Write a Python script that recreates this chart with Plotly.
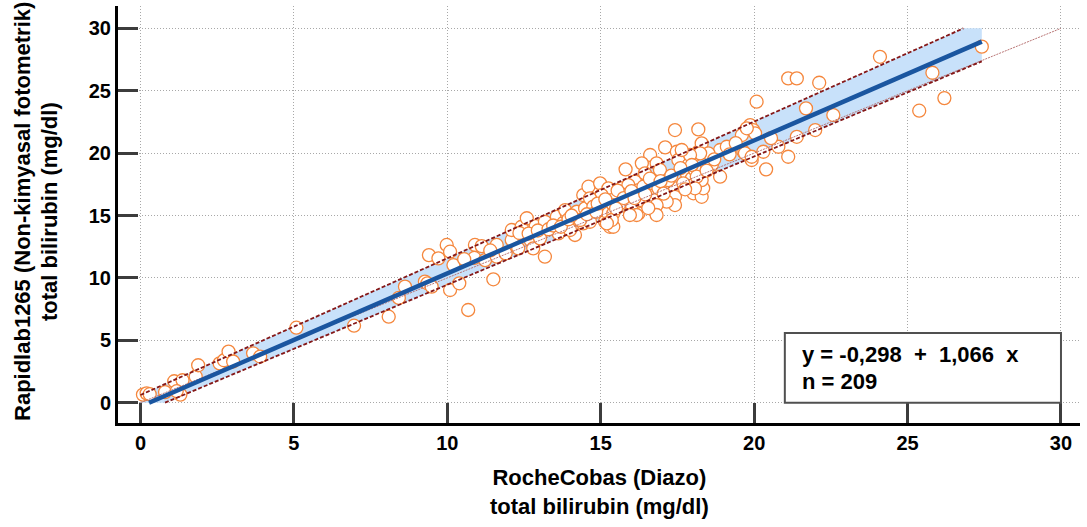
import numpy as np
import plotly.graph_objects as go

# Method comparison: total bilirubin (mg/dl), RocheCobas (Diazo) vs Rapidlab1265
roche = [
    0.08, 0.20, 0.30, 0.80, 1.10, 1.37, 1.30, 1.18, 1.80, 1.88,
    2.58, 2.72, 2.87, 3.02, 3.67, 3.90, 5.08, 6.96, 8.09, 8.42,
    8.62, 9.27, 9.35, 9.49, 10.09, 10.39, 10.68, 11.50, 9.40, 9.71,
    9.98, 10.09, 10.20, 10.90, 11.12, 10.88, 11.23, 11.61, 11.61, 11.90,
    12.10, 12.10, 12.31, 12.42, 12.59, 12.72, 12.80, 12.88, 13.02, 13.18,
    13.18, 13.57, 13.62, 13.78, 13.89, 13.84, 14.16, 14.16, 14.27, 14.43,
    14.65, 14.00, 14.22, 14.49, 14.33, 14.43, 14.60, 14.71, 14.98, 14.98,
    15.08, 15.14, 15.30, 15.41, 15.25, 15.52, 15.68, 15.85, 15.96, 16.06,
    16.17, 16.23, 16.34, 16.71, 16.77, 15.81, 16.12, 15.90, 16.23, 15.95,
    16.39, 16.71, 16.88, 17.15, 17.42, 17.42, 17.42, 17.15, 16.82, 16.82,
    16.28, 16.01, 16.17, 15.95, 15.63, 15.63, 15.25, 15.03, 14.65, 14.76,
    15.36, 15.41, 15.41, 15.36, 15.20, 16.61, 17.10, 17.48, 17.53, 17.86,
    18.18, 18.34, 16.34, 16.44, 16.82, 16.93, 17.20, 17.42, 18.18, 17.80,
    17.97, 18.02, 18.02, 18.29, 18.34, 18.29, 18.07, 18.07, 19.60, 19.87,
    19.97, 20.03, 18.29, 18.89, 19.11, 18.51, 18.24, 17.91, 17.97, 18.62,
    19.65, 19.92, 20.30, 20.79, 21.39, 21.99, 21.11, 20.39, 18.89, 18.13,
    18.07, 17.69, 17.64, 20.08, 21.69, 21.11, 21.39, 22.12, 19.76, 19.70,
    19.92, 22.58, 24.10, 25.38, 25.81, 26.20, 27.42, 12.35, 12.65, 12.95,
    13.30, 13.45, 13.70, 13.95, 14.05, 14.55, 14.85, 14.90, 15.15, 15.50,
    15.55, 15.75, 16.00, 16.10, 16.45, 16.55, 16.60, 16.95, 17.05, 17.30,
    17.60, 17.75, 18.45, 18.70, 19.20, 19.40, 11.40, 10.55, 20.55,
]
rapidlab = [
    0.65, 0.75, 0.68, 0.85, 1.72, 1.80, 0.65, 0.92, 2.10, 3.00,
    3.15, 3.40, 4.10, 3.30, 3.96, 3.70, 6.01, 6.17, 6.89, 8.40,
    9.30, 9.70, 9.57, 9.30, 9.03, 9.57, 7.43, 9.89, 11.83, 11.57,
    12.64, 12.10, 11.03, 12.64, 12.55, 11.60, 11.43, 12.64, 11.70, 11.97,
    13.04, 13.84, 12.37, 14.10, 14.78, 13.00, 12.37, 14.15, 13.17, 11.70,
    14.50, 14.90, 13.57, 14.40, 15.17, 15.44, 15.17, 13.44, 14.64, 14.37,
    14.50, 13.84, 15.30, 15.57, 14.64, 16.64, 17.31, 16.24, 17.58, 16.50,
    15.90, 14.50, 14.10, 14.10, 15.17, 16.38, 17.18, 15.98, 15.17, 15.84,
    17.44, 15.17, 16.38, 16.78, 16.24, 18.70, 17.71, 17.44, 17.04, 16.64,
    17.31, 17.58, 17.18, 17.31, 17.18, 16.50, 15.84, 16.11, 15.84, 15.04,
    16.24, 15.84, 15.04, 15.04, 15.98, 16.78, 17.18, 16.64, 16.38, 15.71,
    16.24, 15.84, 15.17, 14.64, 14.37, 19.85, 20.46, 20.11, 19.45, 19.05,
    20.11, 20.11, 19.18, 18.38, 19.18, 18.65, 17.84, 21.85, 21.90, 18.38,
    17.98, 17.44, 16.78, 16.50, 17.18, 17.84, 18.65, 19.85, 21.45, 22.25,
    21.85, 21.59, 20.78, 20.25, 20.51, 19.98, 19.98, 19.85, 19.05, 19.05,
    20.11, 19.45, 20.11, 20.51, 21.31, 21.85, 19.71, 18.70, 18.11, 18.11,
    17.18, 17.58, 20.25, 24.12, 23.59, 25.99, 25.99, 25.64, 21.99, 19.98,
    19.71, 23.05, 27.72, 23.40, 26.44, 24.41, 28.53, 13.60, 13.55, 13.80,
    13.90, 14.20, 14.10, 14.70, 15.00, 15.10, 15.30, 15.95, 16.30, 15.55,
    17.00, 16.40, 16.95, 16.40, 16.70, 15.60, 17.95, 17.75, 16.75, 18.20,
    18.80, 17.10, 18.60, 19.50, 19.90, 20.80, 12.20, 11.50, 21.20,
]

# Regression fit and the 95% confidence band limits (intercept, slope)
INTERCEPT = -0.298
SLOPE = 1.066
CI_UPPER = (0.62, 1.0955)
CI_LOWER = (-0.82, 1.0275)

TICKS = [0, 5, 10, 15, 20, 25, 30]
LIMIT = 30.0

x = np.array(roche)
y = np.array(rapidlab)
x_min, x_max = x.min(), x.max()


def clipped_segment(a, b, x_lo, x_hi):
    """Endpoints of y = a + b*x over [x_lo, x_hi], kept inside 0..LIMIT in y."""
    xs = max(x_lo, (0 - a) / b)
    xe = min(x_hi, (LIMIT - a) / b)
    return [xs, xe], [a + b * xs, a + b * xe]


def dec(v):
    return f"{v:.3f}".replace(".", ",")


FONT = "Liberation Sans, Arial, sans-serif"
NB = "\u00a0"
BOLD22 = dict(family=FONT, size=22, color="#000000", weight="bold")

fig = go.Figure()

# shaded confidence band between the two limit lines
gx = np.linspace(0, x_max, 600)
up = np.clip(CI_UPPER[0] + CI_UPPER[1] * gx, 0, LIMIT)
lo = np.clip(CI_LOWER[0] + CI_LOWER[1] * gx, 0, LIMIT)
fig.add_trace(go.Scatter(
    x=np.concatenate([gx, gx[::-1]]), y=np.concatenate([up, lo[::-1]]),
    fill="toself", fillcolor="#c8e1fa", line=dict(width=0),
    mode="lines", hoverinfo="skip", showlegend=False,
))

# observations
fig.add_trace(go.Scatter(
    x=x, y=y, mode="markers", showlegend=False,
    marker=dict(symbol="circle", size=13, color="white",
                line=dict(color="#f5873d", width=1.3)),
))

# line of identity
fig.add_trace(go.Scatter(
    x=[0, LIMIT], y=[0, LIMIT], mode="lines", showlegend=False,
    line=dict(color="#b87474", width=1, dash="2px,1px"),
))

# confidence limit lines
for a, b in (CI_UPPER, CI_LOWER):
    sx, sy = clipped_segment(a, b, 0, x_max)
    fig.add_trace(go.Scatter(
        x=sx, y=sy, mode="lines", showlegend=False,
        line=dict(color="#851818", width=1.8, dash="4px,2px"),
    ))

# regression line
rx, ry = clipped_segment(INTERCEPT, SLOPE, x_min, x_max)
fig.add_trace(go.Scatter(
    x=rx, y=ry, mode="lines", showlegend=False,
    line=dict(color="#1a56a0", width=4.5),
))

axis_common = dict(
    tickvals=TICKS, ticks="inside", ticklen=20, tickwidth=3, tickcolor="#3c3c3c",
    showline=True, linecolor="#000000", linewidth=3, mirror=False,
    showgrid=True, gridcolor="#a8a8a8", griddash="1px,2px", gridwidth=1,
    zeroline=False,
    tickfont=dict(family=FONT, size=20, color="#000000", weight="bold"),
)

fig.update_layout(
    width=1087, height=527,
    margin=dict(l=118, r=7, t=6, b=104),
    paper_bgcolor="white", plot_bgcolor="white",
    xaxis=dict(range=[-0.733, 30.62], **axis_common),
    yaxis=dict(range=[-1.627, 31.79], **axis_common),
    showlegend=False,
)

# statistics box
fig.add_shape(type="rect", xref="x", yref="y", x0=21.0, x1=30.0, y0=0, y1=5.58,
              fillcolor="white", line=dict(color="#505050", width=2), layer="above")

eq = f"y = {dec(INTERCEPT)}{NB}{NB}+{NB}{NB}{dec(SLOPE)}{NB}{NB}x"
fig.add_annotation(x=21.5, y=3.9, xref="x", yref="y", text=eq, showarrow=False,
                   xanchor="left", yanchor="middle", font=BOLD22)
fig.add_annotation(x=21.5, y=1.66, xref="x", yref="y", text=f"n = {len(x)}",
                   showarrow=False, xanchor="left", yanchor="middle", font=BOLD22)

# axis titles
fig.add_annotation(x=0.501, y=-0.1655, xref="paper", yref="paper",
                   text="RocheCobas (Diazo)<br>total bilirubin (mg/dl)",
                   showarrow=False, xanchor="center", yanchor="middle", font=BOLD22)
for line_text, px in (("Rapidlab1265 (Non-kimyasal fotometrik)", 23),
                      ("total bilirubin (mg/dl)", 50)):
    fig.add_annotation(x=(px - 118) / 962, y=0.506, xref="paper", yref="paper",
                       textangle=-90, text=line_text, showarrow=False,
                       xanchor="center", yanchor="middle", font=BOLD22)

fig.write_html("out.html")
